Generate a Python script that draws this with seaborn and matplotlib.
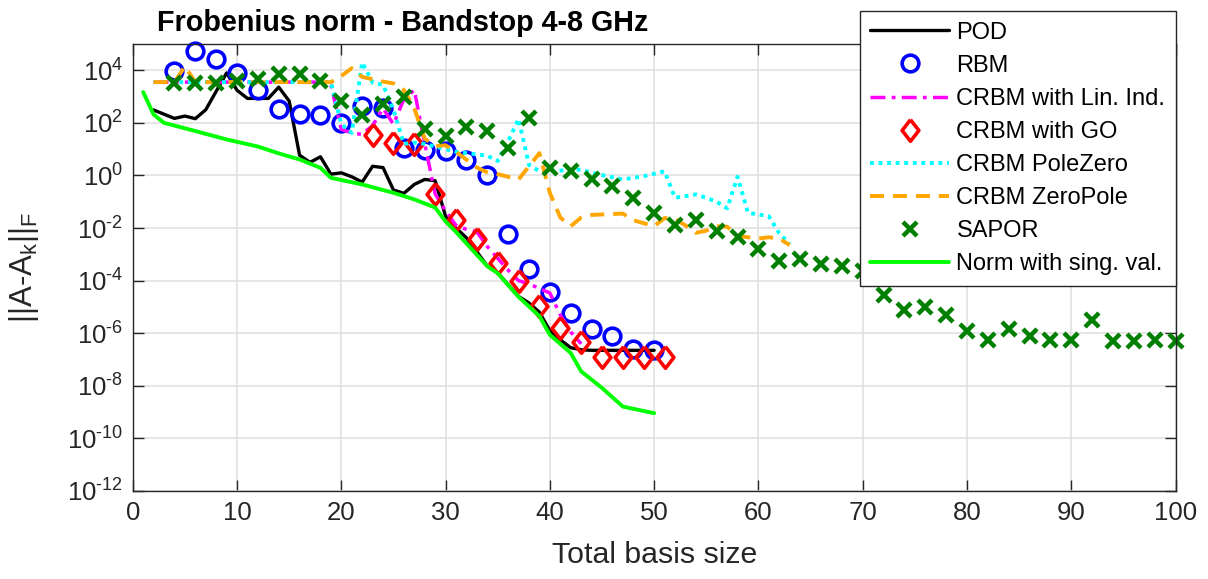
import numpy as np
import pandas as pd
import matplotlib
matplotlib.use("Agg")
import matplotlib.pyplot as plt
import seaborn as sns
from matplotlib.ticker import FixedLocator, FuncFormatter, NullLocator

# ---------------------------------------------------------------------------
# Error norms (stored as log10 of ||A - A_k||_F) versus total basis size
# ---------------------------------------------------------------------------
pod_k = [2, 4, 5, 6, 7, 9, 10, 11, 13, 14, 15, 16, 17, 18, 19, 20, 21, 22, 23,
         24, 25, 26, 27, 28, 29, 30, 31, 32, 33, 34, 35, 36, 37, 38, 39, 40,
         41, 42, 43, 44, 50]
pod_log = [2.49, 2.17, 2.26, 2.16, 2.5, 3.9, 3.24, 2.93, 2.93, 3.36, 2.83, 0.77,
           0.5, 0.71, 0.05, 0.1, -0.05, -0.25, 0.35, 0.3, -0.55, -0.68, -0.34,
           -0.15, -0.2, -1.55, -2.0, -2.37, -2.9, -3.45, -3.7, -4.15, -4.6,
           -4.85, -5.2, -5.9, -6.25, -6.55, -6.63, -6.65, -6.65]

rbm_k = [4, 6, 8, 10, 12, 14, 16, 18, 20, 22, 24, 26, 28, 30, 32, 34, 36, 38,
         40, 42, 44, 46, 48, 50]
rbm_log = [3.97, 4.74, 4.42, 3.89, 3.24, 2.54, 2.32, 2.3, 2.0, 2.63, 2.58, 1.05,
           0.97, 0.93, 0.58, 0.0, -2.22, -3.55, -4.45, -5.23, -5.84, -6.12,
           -6.6, -6.63]

linind_k = [2, 18, 19, 20, 21, 22, 23, 24, 25, 26, 27, 28, 29, 30, 31, 32, 33,
            34, 35, 36, 37, 38, 39, 40, 41, 42, 43]
linind_log = [3.55, 3.55, 3.45, 1.75, 1.62, 1.56, 1.9, 2.55, 1.95, 2.9, 3.25,
              1.2, -0.7, -1.35, -1.9, -2.05, -2.15, -2.7, -3.15, -3.6, -4.0,
              -4.12, -4.3, -4.47, -5.3, -5.95, -6.4]

go_k = [23, 25, 27, 29, 31, 33, 35, 37, 39, 41, 43, 45, 47, 49, 51]
go_log = [1.53, 1.25, 1.2, -0.7, -1.7, -2.41, -3.33, -4.03, -4.98, -5.8, -6.35,
          -6.91, -6.91, -6.91, -6.91]

polezero_k = [2, 19, 20, 21, 22, 23, 24, 25, 26, 27, 28, 29, 31, 33, 34, 35,
              36, 37, 38, 39, 42, 43, 44, 47, 49, 51, 52, 54, 55, 56, 57, 58,
              59, 61, 62, 63]
polezero_log = [3.55, 3.55, 1.95, 1.62, 4.3, 3.53, 3.45, 2.5, 1.2, 1.25, 1.2,
                1.1, 0.9, 0.8, 0.75, 0.55, 1.3, 2.15, 0.4, 0.16, 0.2, 0.23, 0.1,
                -0.15, -0.03, 0.16, -0.85, -0.72, -0.85, -1.0, -1.25, -0.05,
                -1.42, -1.55, -2.2, -2.6]

zeropole_k = [2, 4, 5, 6, 19, 20, 21, 22, 24, 25, 26, 27, 28, 29, 30, 31, 32,
              33, 34, 35, 37, 38, 39, 40, 41, 42, 43, 44, 47, 48, 50, 51, 52,
              53, 54, 55, 56, 57, 58, 60, 61, 62, 63]
zeropole_log = [3.55, 3.55, 4.15, 3.55, 3.55, 3.78, 4.08, 3.75, 3.57, 3.5, 3.25,
                2.55, 1.4, 1.12, 1.15, 0.9, 0.6, 0.3, 0.12, 0.05, -0.15, 0.35,
                0.85, -0.66, -1.6, -1.93, -1.6, -1.5, -1.45, -1.7, -1.93, -1.62,
                -1.65, -1.9, -2.18, -2.1, -1.93, -1.95, -2.3, -2.4, -2.35, -2.4,
                -2.65]

sapor_k = list(range(4, 101, 2))
sapor_log = [3.53, 3.53, 3.53, 3.59, 3.66, 3.87, 3.85, 3.59, 2.85, 2.3, 2.72,
             3.0, 1.77, 1.5, 1.83, 1.69, 1.05, 2.2, 0.27, 0.16, -0.13, -0.41,
             -0.85, -1.42, -1.87, -1.68, -2.12, -2.34, -2.79, -3.26, -3.18,
             -3.36, -3.44, -3.64, -4.56, -5.1, -5.0, -5.3, -5.93, -6.25, -5.83,
             -6.12, -6.25, -6.27, -5.51, -6.31, -6.31, -6.25, -6.31]

singval_k = [1, 2, 3, 6, 9, 12, 14, 16, 18, 19, 22, 25, 27, 29, 30, 31, 34, 35,
             37, 39, 40, 42, 43, 45, 47, 50]
singval_log = [3.17, 2.32, 2.0, 1.69, 1.37, 1.1, 0.84, 0.61, 0.29, -0.09, -0.34,
               -0.66, -0.91, -1.22, -1.75, -2.15, -3.45, -3.72, -4.62, -5.35,
               -6.06, -6.75, -7.45, -8.08, -8.79, -9.04]

labels = ["POD", "RBM", "CRBM with Lin. Ind.", "CRBM with GO",
          "CRBM PoleZero", "CRBM ZeroPole", "SAPOR", "Norm with sing. val."]

x_ticks = list(range(0, 101, 10))
y_tick_exps = list(range(-12, 5, 2))

# ---------------------------------------------------------------------------
sns.set_theme(style="whitegrid")
plt.rcParams.update({
    "font.family": ["Liberation Sans", "DejaVu Sans"],
    "mathtext.fontset": "custom",
    "mathtext.rm": "Liberation Sans",
    "mathtext.it": "Liberation Sans:italic",
    "mathtext.bf": "Liberation Sans:bold",
    "mathtext.default": "regular",
    "axes.unicode_minus": False,
})

INK = "#262626"

fig = plt.figure(figsize=(12.08, 5.79), dpi=100)
ax = fig.add_axes([0.1099, 0.152, 0.8632, 0.772])
ax.set_facecolor("white")


def frame(k, logs):
    return pd.DataFrame({"k": k, "err": 10.0 ** np.asarray(logs)})


def line(k, logs, **kws):
    sns.lineplot(data=frame(k, logs), x="k", y="err", ax=ax, errorbar=None,
                 estimator=None, sort=False, **kws)


diamond = [(0, 1), (0.78, 0), (0, -1), (-0.78, 0), (0, 1)]

line(pod_k, pod_log, color="black", lw=2.4, linestyle="-")
line(rbm_k, rbm_log, color="#0000ff", linestyle="", marker="o", ms=12,
     mfc="none", mec="#0000ff", mew=2.6, clip_on=False)
line(linind_k, linind_log, color="#ff00ff", lw=2.5,
     linestyle=(0, (4.3, 1.8, 1.1, 1.8)))
line(go_k, go_log, color="#ff0000", linestyle="", marker=diamond, ms=15.5,
     mfc="none", mec="#ff0000", mew=2.6, clip_on=False)
line(polezero_k, polezero_log, color="#00ffff", lw=2.8, linestyle=(0, (1, 1.2)))
line(zeropole_k, zeropole_log, color="#ffa600", lw=2.8,
     linestyle=(0, (3.6, 2.3)))
line(sapor_k, sapor_log, color="#007f00", linestyle="", marker="x", ms=10,
     mec="#007f00", mew=3.2, clip_on=False)
line(singval_k, singval_log, color="#00ff00", lw=2.8, linestyle="-")

ax.set_yscale("log")
ax.set_xlim(0, 100)
ax.set_ylim(1e-12, 1e5)


def pow10_label(v, pos):
    e = int(round(np.log10(v)))
    if e < 0:
        return r"$10^{\text{-}%d}$" % (-e)
    return r"$10^{%d}$" % e


ax.xaxis.set_major_locator(FixedLocator(x_ticks))
ax.yaxis.set_major_locator(FixedLocator([10.0 ** e for e in y_tick_exps]))
ax.yaxis.set_major_formatter(FuncFormatter(pow10_label))
ax.yaxis.set_minor_locator(NullLocator())
ax.xaxis.set_minor_locator(NullLocator())

ax.grid(True, color="#dfdfdf", lw=1.1)
for s in ax.spines.values():
    s.set_color(INK)
    s.set_linewidth(1.0)
ax.tick_params(axis="both", which="major", direction="in", length=8,
               width=1.0, color=INK, labelcolor=INK, labelsize=18.5,
               top=True, right=True, left=True, bottom=True, pad=7)

ax.set_xlabel("Total basis size", fontsize=21.8, color=INK, labelpad=12)
ax.set_ylabel("||A-A$_k$||$_F$", fontsize=22.5, color=INK)
ax.yaxis.set_label_coords(-0.088, 0.5)

fig.text(403 / 1208, 1 - 31 / 579, "Frobenius norm - Bandstop 4-8 GHz",
         ha="center", va="baseline", fontsize=20.7, fontweight="bold",
         color="black")

leg = ax.legend(handles=list(ax.lines), labels=labels, loc="upper right",
                bbox_to_anchor=(1176 / 1208, 1 - 11 / 579),
                bbox_transform=fig.transFigure, fontsize=17, frameon=True,
                fancybox=False, framealpha=1, edgecolor=INK, borderpad=0.45,
                handlelength=3.35, handletextpad=0.3, labelspacing=0.47,
                borderaxespad=0, numpoints=1)
leg.get_frame().set_linewidth(1.0)
for t in leg.get_texts():
    t.set_color("black")

fig.savefig("out.png", dpi=100)
